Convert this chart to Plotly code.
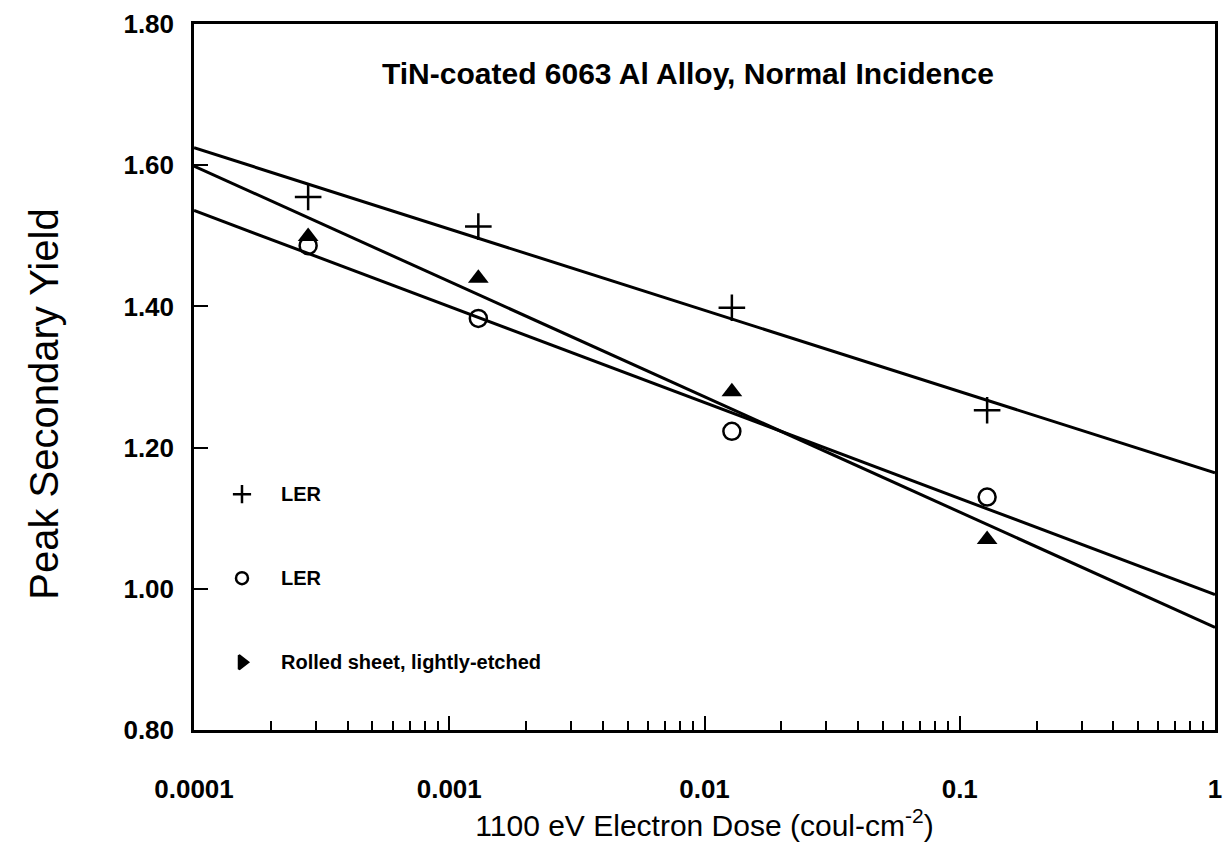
import numpy as np
import plotly.graph_objects as go

# Electron dose (coul/cm^2) at which each yield was measured
dose = [0.00028, 0.0013, 0.0128, 0.128]

# Peak secondary electron yield for each sample
ler_cross = [1.555, 1.513, 1.398, 1.253]
ler_circle = [1.486, 1.383, 1.223, 1.130]
rolled_sheet = [1.499, 1.440, 1.279, 1.070]

legend_labels = ["LER", "LER", "Rolled sheet, lightly-etched"]

x_tick_vals = [0.0001, 0.001, 0.01, 0.1, 1]
x_tick_text = ["0.0001", "0.001", "0.01", "0.1", "1"]
y_tick_vals = [0.80, 1.00, 1.20, 1.40, 1.60, 1.80]

TITLE = "TiN-coated 6063 Al Alloy, Normal Incidence"
X_TITLE = "1100 eV Electron Dose (coul-cm<sup>-2</sup>)"
Y_TITLE = "Peak Secondary Yield"

BOLD = "Liberation Sans, Arial"
PLAIN = "Liberation Sans, Arial"

fig = go.Figure()

# least-squares fit of yield against log10(dose), drawn across the full axis
x_fit = np.logspace(-4, 0, 50)
for ys in (ler_cross, ler_circle, rolled_sheet):
    slope, icpt = np.polyfit(np.log10(dose), ys, 1)
    fig.add_trace(go.Scatter(x=x_fit, y=icpt + slope * np.log10(x_fit),
                             mode="lines", line=dict(color="black", width=3),
                             showlegend=False, hoverinfo="skip"))

fig.add_trace(go.Scatter(x=dose, y=ler_cross, mode="markers", showlegend=False,
                         marker=dict(symbol="cross-thin", size=19, color="black",
                                     line=dict(color="black", width=2.5))))
fig.add_trace(go.Scatter(x=dose, y=ler_circle, mode="markers", showlegend=False,
                         marker=dict(symbol="circle-open", size=17, color="black",
                                     line=dict(color="black", width=2.5))))
fig.add_trace(go.Scatter(x=dose, y=rolled_sheet, mode="markers", showlegend=False,
                         marker=dict(symbol="triangle-up", size=18, color="black")))

# in-plot key: symbols on a hidden unit overlay axis, labels as annotations
key_y = [0.334, 0.215, 0.096]
key_sym = ["cross-thin", "circle-open", "triangle-right"]
key_size = [13, 12, 12]
for yk, sym, sz in zip(key_y, key_sym, key_size):
    fig.add_trace(go.Scatter(x=[0.047], y=[yk], xaxis="x2", yaxis="y2",
                             mode="markers", showlegend=False, hoverinfo="skip",
                             marker=dict(symbol=sym, size=sz, color="black",
                                         line=dict(color="black", width=2.5))))
for yk, lab in zip(key_y, legend_labels):
    fig.add_annotation(x=0.083, y=yk, xref="paper", yref="paper", text=lab,
                       showarrow=False, xanchor="left", yanchor="middle",
                       font=dict(family=BOLD, size=20, color="black", weight="bold"))

fig.add_annotation(x=0.484, y=0.93, xref="paper", yref="paper", text=TITLE,
                   showarrow=False, xanchor="center", yanchor="middle",
                   font=dict(family=BOLD, size=30, color="black", weight="bold"))

# vertical axis title, set as a rotated annotation left of the tick labels
fig.add_annotation(x=-0.147, y=0.462, xref="paper", yref="paper", text=Y_TITLE,
                   textangle=-90, showarrow=False, xanchor="center", yanchor="middle",
                   font=dict(family=PLAIN, size=40, color="black"))

minor_vals = [m * 10.0 ** e for e in range(-4, 0) for m in range(2, 10)]

fig.update_layout(
    width=1231, height=860,
    margin=dict(l=194, r=9, t=16, b=130),
    paper_bgcolor="white", plot_bgcolor="white",
    font=dict(family=PLAIN, color="black"),
    xaxis=dict(
        type="log", range=[-4, 0],
        tickvals=x_tick_vals, ticktext=x_tick_text,
        ticks="inside", ticklen=14, tickwidth=1.5, tickcolor="black",
        minor=dict(tickvals=minor_vals, ticks="inside", ticklen=9,
                   tickwidth=1.5, tickcolor="black", showgrid=False),
        showline=True, linecolor="black", linewidth=2.5, mirror=True,
        showgrid=False, zeroline=False,
        tickfont=dict(family=BOLD, size=26, weight="bold"),
        ticklabelstandoff=34,
        title=dict(text=X_TITLE, font=dict(family=PLAIN, size=30), standoff=4),
    ),
    yaxis=dict(
        range=[0.8, 1.8], tickvals=y_tick_vals, tickformat=".2f",
        ticks="inside", ticklen=14, tickwidth=1.5, tickcolor="black",
        showline=True, linecolor="black", linewidth=2.5, mirror=True,
        showgrid=False, zeroline=False,
        tickfont=dict(family=BOLD, size=26, weight="bold"),
        ticklabelstandoff=12,
    ),
    xaxis2=dict(overlaying="x", range=[0, 1], visible=False),
    yaxis2=dict(overlaying="y", range=[0, 1], visible=False),
)

fig.write_html("out.html")
